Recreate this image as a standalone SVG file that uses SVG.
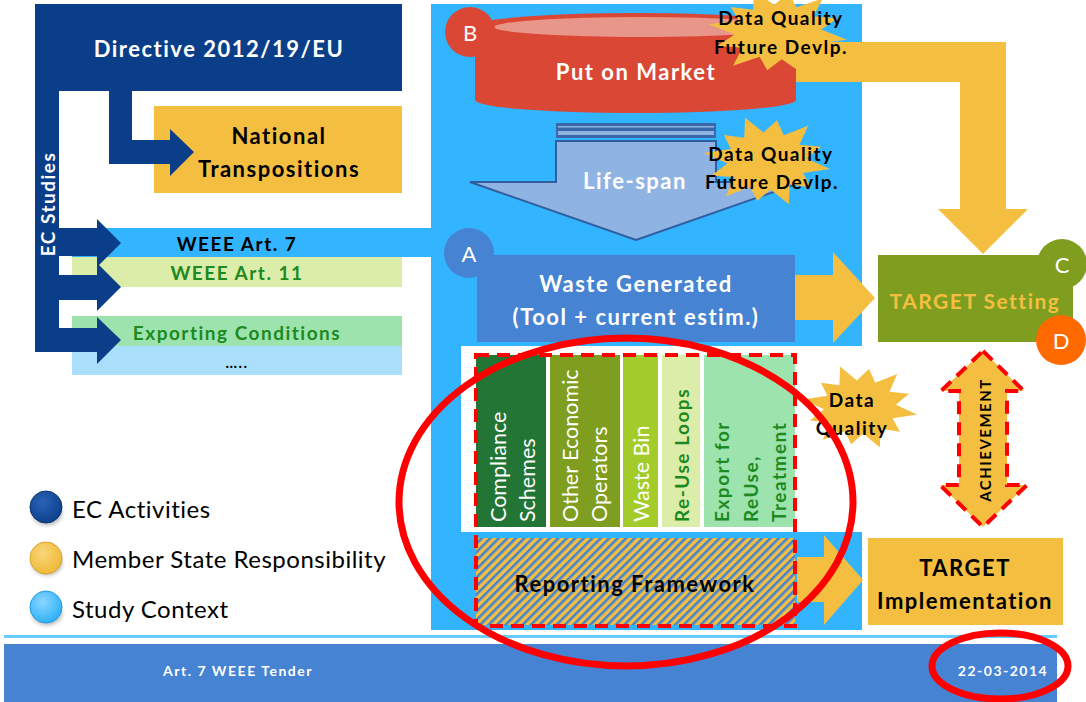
<svg xmlns="http://www.w3.org/2000/svg" xmlns:xlink="http://www.w3.org/1999/xlink" width="1086" height="702" viewBox="0 0 1086 702">
  <style>
    text { font-family: Lato, "Open Sans", "Liberation Sans", sans-serif; }
    .b { font-weight: bold; letter-spacing: 1.5px; }
    .w { fill: #FFFFFF; }
    .k { fill: #000000; }
    .g { fill: #1D8A21; }
    .mid { text-anchor: middle; dominant-baseline: central; }
    .yel { fill: #F4BF40; }
    .dash { fill: none; stroke: #FF0000; stroke-width: 4; stroke-dasharray: 13 8; }
    .ring { fill: none; stroke: #FF0000; stroke-width: 7; }
  </style>
  <defs>
    <!-- spiky burst used for the data quality call-outs -->
    <polygon id="burst" points="1,0 0.599,0.161 0.779,0.45 0.438,0.438 0.5,0.866 0.161,0.599 0,0.88 -0.161,0.599 -0.5,0.866 -0.438,0.438 -0.797,0.46 -0.599,0.161 -1,0 -0.599,-0.161 -0.762,-0.44 -0.438,-0.438 -0.5,-0.866 -0.161,-0.599 0,-0.9 0.161,-0.599 0.5,-0.866 0.438,-0.438 0.779,-0.45 0.599,-0.161"/>
    <pattern id="hatch" patternUnits="userSpaceOnUse" width="6" height="6" patternTransform="rotate(45)">
      <rect width="6" height="6" fill="#F4BF40"/>
      <rect width="2.6" height="6" fill="#4683D3"/>
    </pattern>
    <radialGradient id="gDark" cx="0.4" cy="0.35" r="0.7">
      <stop offset="0" stop-color="#2A63B8"/>
      <stop offset="1" stop-color="#0B3E89"/>
    </radialGradient>
    <radialGradient id="gYel" cx="0.4" cy="0.35" r="0.7">
      <stop offset="0" stop-color="#F9D67A"/>
      <stop offset="1" stop-color="#F0B833"/>
    </radialGradient>
    <radialGradient id="gSky" cx="0.4" cy="0.35" r="0.7">
      <stop offset="0" stop-color="#8AD6FF"/>
      <stop offset="1" stop-color="#2AAEFA"/>
    </radialGradient>
    <filter id="soft" x="-50%" y="-50%" width="200%" height="200%">
      <feGaussianBlur stdDeviation="2"/>
    </filter>
  </defs>

  <rect width="1086" height="702" fill="#FFFFFF"/>

  <!-- study context panel -->
  <g id="study-panel">
    <rect x="431" y="4" width="431" height="626" fill="#33B4FE"/>
    <rect x="461" y="346" width="401" height="186" fill="#FFFFFF"/>
  </g>

  <!-- left column: directive and EC studies -->
  <g id="directive">
    <rect x="35" y="4" width="367" height="87" fill="#0B3E89"/>
    <text x="219" y="48" class="b w mid" font-size="22" letter-spacing="1">Directive 2012/19/EU</text>
  </g>
  <g id="ec-studies">
    <rect x="35" y="4" width="24" height="348" fill="#0B3E89"/>
    <text transform="translate(47,204) rotate(-90)" class="b w mid" font-size="19">EC Studies</text>
  </g>
  <g id="national">
    <rect x="154" y="106" width="248" height="87" fill="#F4BF40"/>
    <text x="279" y="135" class="b k mid" font-size="22">National</text>
    <text x="279" y="168" class="b k mid" font-size="22">Transpositions</text>
  </g>
  <g id="weee7">
    <rect x="72" y="228" width="360" height="29" fill="#33B4FE"/>
    <text x="237" y="243" class="b k mid" font-size="19" letter-spacing="1.3">WEEE Art. 7</text>
  </g>
  <g id="weee11">
    <rect x="72" y="257" width="330" height="30" fill="#DCEDA9"/>
    <text x="237" y="272" class="b g mid" font-size="19" letter-spacing="1.2">WEEE Art. 11</text>
  </g>
  <g id="exporting">
    <rect x="72" y="316" width="330" height="30" fill="#9DE3AD"/>
    <text x="237" y="332" class="b g mid" font-size="19" letter-spacing="1.3">Exporting Conditions</text>
  </g>
  <g id="more">
    <rect x="72" y="346" width="330" height="29" fill="#AADFFB"/>
    <text x="237" y="362" class="b k mid" font-size="15">…..</text>
  </g>

  <!-- put on market -->
  <g id="put-on-market">
    <path d="M475,26 V100 A160.5,13 0 0 0 796,100 V26 Z" fill="#DA4734"/>
    <ellipse cx="635.5" cy="26" rx="160.5" ry="13" fill="#DA4734"/>
    <ellipse cx="642" cy="27" rx="148" ry="10" fill="#E8958A"/>
    <text x="636" y="71" class="b w mid" font-size="22">Put on Market</text>
    <circle cx="470" cy="32" r="25" fill="#DA4734"/>
    <text x="470" y="32" class="w mid" font-size="22">B</text>
  </g>

  <!-- life-span -->
  <g id="life-span">
    <rect x="556" y="123" width="160" height="15" fill="#3A67A8"/>
    <rect x="558" y="126" width="156" height="1.5" fill="#8FB4E3"/>
    <rect x="558" y="131" width="156" height="4" fill="#8FB4E3"/>
    <polygon points="556,141 716,141 716,182 802,182 636,240 470,182 556,182" fill="#8FB4E3" stroke="#2F5D9E" stroke-width="2"/>
    <text x="635" y="180" class="b w mid" font-size="22" letter-spacing="1">Life-span</text>
  </g>

  <!-- waste generated -->
  <g id="waste-generated">
    <rect x="477" y="255" width="318" height="87" fill="#4683D3"/>
    <text x="636" y="283" class="b w mid" font-size="22" letter-spacing="1.6">Waste Generated</text>
    <text x="636" y="316" class="b w mid" font-size="22" letter-spacing="1.4">(Tool + current estim.)</text>
    <circle cx="469" cy="253" r="25" fill="#4683D3"/>
    <text x="469" y="253" class="w mid" font-size="22">A</text>
  </g>

  <!-- collection channels -->
  <g id="channels">
    <rect x="476" y="355" width="70" height="172" fill="#227535"/>
    <rect x="550" y="355" width="70" height="172" fill="#7F9D1F"/>
    <rect x="623" y="355" width="35" height="172" fill="#A3CC2B"/>
    <rect x="662" y="355" width="38" height="172" fill="#DCEDA9"/>
    <rect x="704" y="355" width="91" height="172" fill="#9DE3AD"/>
    <g font-size="21.5">
      <text transform="translate(506,522) rotate(-90)" class="w">Compliance</text>
      <text transform="translate(535,522) rotate(-90)" class="w">Schemes</text>
      <text transform="translate(578,522) rotate(-90)" class="w">Other Economic</text>
      <text transform="translate(607,522) rotate(-90)" class="w">Operators</text>
      <text transform="translate(649,522) rotate(-90)" class="w">Waste Bin</text>
    </g>
    <g font-size="19" class="b g" letter-spacing="1.3">
      <text transform="translate(689,522) rotate(-90)">Re-Use Loops</text>
      <text transform="translate(729,522) rotate(-90)">Export for</text>
      <text transform="translate(758,522) rotate(-90)">ReUse,</text>
      <text transform="translate(786,522) rotate(-90)">Treatment</text>
    </g>
  </g>

  <!-- reporting framework -->
  <g id="reporting-framework">
    <rect x="476" y="538" width="319" height="87" fill="url(#hatch)"/>
    <text x="635" y="583" class="b k mid" font-size="22" letter-spacing="1.6">Reporting Framework</text>
  </g>
  <rect x="476" y="355" width="319" height="271" class="dash"/>

  <!-- target boxes -->
  <g id="target-setting">
    <rect x="878" y="255" width="195" height="87" fill="#7F9D1F"/>
    <text x="975" y="300" class="b yel mid" font-size="21">TARGET Setting</text>
    <circle cx="1062" cy="264" r="25" fill="#7F9D1F"/>
    <text x="1062" y="264" class="w mid" font-size="22">C</text>
    <circle cx="1061" cy="340" r="25" fill="#FF6A00"/>
    <text x="1061" y="340" class="w mid" font-size="22">D</text>
  </g>
  <g id="target-implementation">
    <rect x="868" y="538" width="195" height="87" fill="#F4BF40"/>
    <text x="965" y="567" class="b k mid" font-size="22" letter-spacing="1">TARGET</text>
    <text x="965" y="600" class="b k mid" font-size="22" letter-spacing="1.7">Implementation</text>
  </g>

  <!-- connectors -->
  <g id="connectors">
    <polygon points="109,91 132,91 132,140 170,140 170,129 194,152 170,176 170,164 109,164" fill="#0B3E89"/>
    <polygon points="59,228 97,228 97,219 121,243 97,267 97,256 59,256" fill="#0B3E89"/>
    <polygon points="59,275 97,275 97,263 121,287 97,311 97,300 59,300" fill="#0B3E89"/>
    <polygon points="59,328 97,328 97,317 121,340 97,364 97,352 59,352" fill="#0B3E89"/>
    <polygon points="796,42 1006,42 1006,209 1028,209 983,254 938,209 960,209 960,82 796,82" fill="#F4BF40"/>
    <polygon points="795,275 833,275 833,252 875,298 833,343 833,320 795,320" fill="#F4BF40"/>
    <polygon points="797,557 824,557 824,535 863,580 824,625 824,602 797,602" fill="#F4BF40"/>
    <g id="achievement">
      <polygon points="983,351 1024,391 1007,391 1007,485 1027,485 983,527 940,485 959,485 959,391 941,391" fill="#F4BF40"/>
      <polygon points="983,351 1024,391 1007,391 1007,485 1027,485 983,527 940,485 959,485 959,391 941,391" class="dash" stroke-width="5"/>
      <text transform="translate(985,440) rotate(-90)" class="b k mid" font-size="15" letter-spacing="2">ACHIEVEMENT</text>
    </g>
  </g>

  <!-- data quality call-outs -->
  <g id="dq-market">
    <use xlink:href="#burst" transform="translate(778,32) scale(70,44) rotate(10)" fill="#F4BF40"/>
    <text x="781" y="17" class="b k mid" font-size="19" letter-spacing="1.4">Data Quality</text>
    <text x="781" y="46" class="b k mid" font-size="19" letter-spacing="1.5">Future Devlp.</text>
  </g>
  <g id="dq-lifespan">
    <use xlink:href="#burst" transform="translate(767,161) scale(64,46) rotate(10)" fill="#F4BF40"/>
    <text x="771" y="153" class="b k mid" font-size="19" letter-spacing="1.4">Data Quality</text>
    <text x="772" y="181" class="b k mid" font-size="19" letter-spacing="1.5">Future Devlp.</text>
  </g>
  <g id="dq-channels">
    <use xlink:href="#burst" transform="translate(860,407) scale(58,43) rotate(10)" fill="#F4BF40"/>
    <text x="852" y="399" class="b k mid" font-size="19" letter-spacing="1.5">Data</text>
    <text x="852" y="427" class="b k mid" font-size="19" letter-spacing="1.4">Quality</text>
  </g>

  <!-- legend -->
  <g id="legend">
    <ellipse cx="47" cy="513" rx="15" ry="12" fill="#000" opacity="0.3" filter="url(#soft)"/>
    <circle cx="46" cy="507" r="16" fill="url(#gDark)" stroke="#0A3577" stroke-width="1"/>
    <ellipse cx="47" cy="563" rx="15" ry="12" fill="#000" opacity="0.3" filter="url(#soft)"/>
    <circle cx="46" cy="558" r="16" fill="url(#gYel)" stroke="#D9A22A" stroke-width="1"/>
    <ellipse cx="47" cy="613" rx="15" ry="12" fill="#000" opacity="0.3" filter="url(#soft)"/>
    <circle cx="46" cy="607" r="16" fill="url(#gSky)" stroke="#1F9BE0" stroke-width="1"/>
    <g font-size="24" letter-spacing="0.5" class="k" dominant-baseline="central">
      <text x="72" y="508">EC Activities</text>
      <text x="72" y="558">Member State Responsibility</text>
      <text x="72" y="608">Study Context</text>
    </g>
  </g>

  <!-- footer -->
  <g id="footer">
    <rect x="4" y="635" width="1053" height="3" fill="#66CCFF"/>
    <rect x="4" y="644" width="1053" height="58" fill="#4683D3"/>
    <text x="238" y="670" class="b w mid" font-size="14" letter-spacing="1.2">Art. 7 WEEE Tender</text>
    <text x="1003" y="670" class="b w mid" font-size="14" letter-spacing="1.1">22-03-2014</text>
  </g>

  <!-- highlight rings -->
  <g id="highlights">
    <ellipse cx="626" cy="502" rx="227" ry="164" class="ring"/>
    <ellipse cx="1000" cy="666" rx="68" ry="33" class="ring" stroke-width="6"/>
  </g>
</svg>
